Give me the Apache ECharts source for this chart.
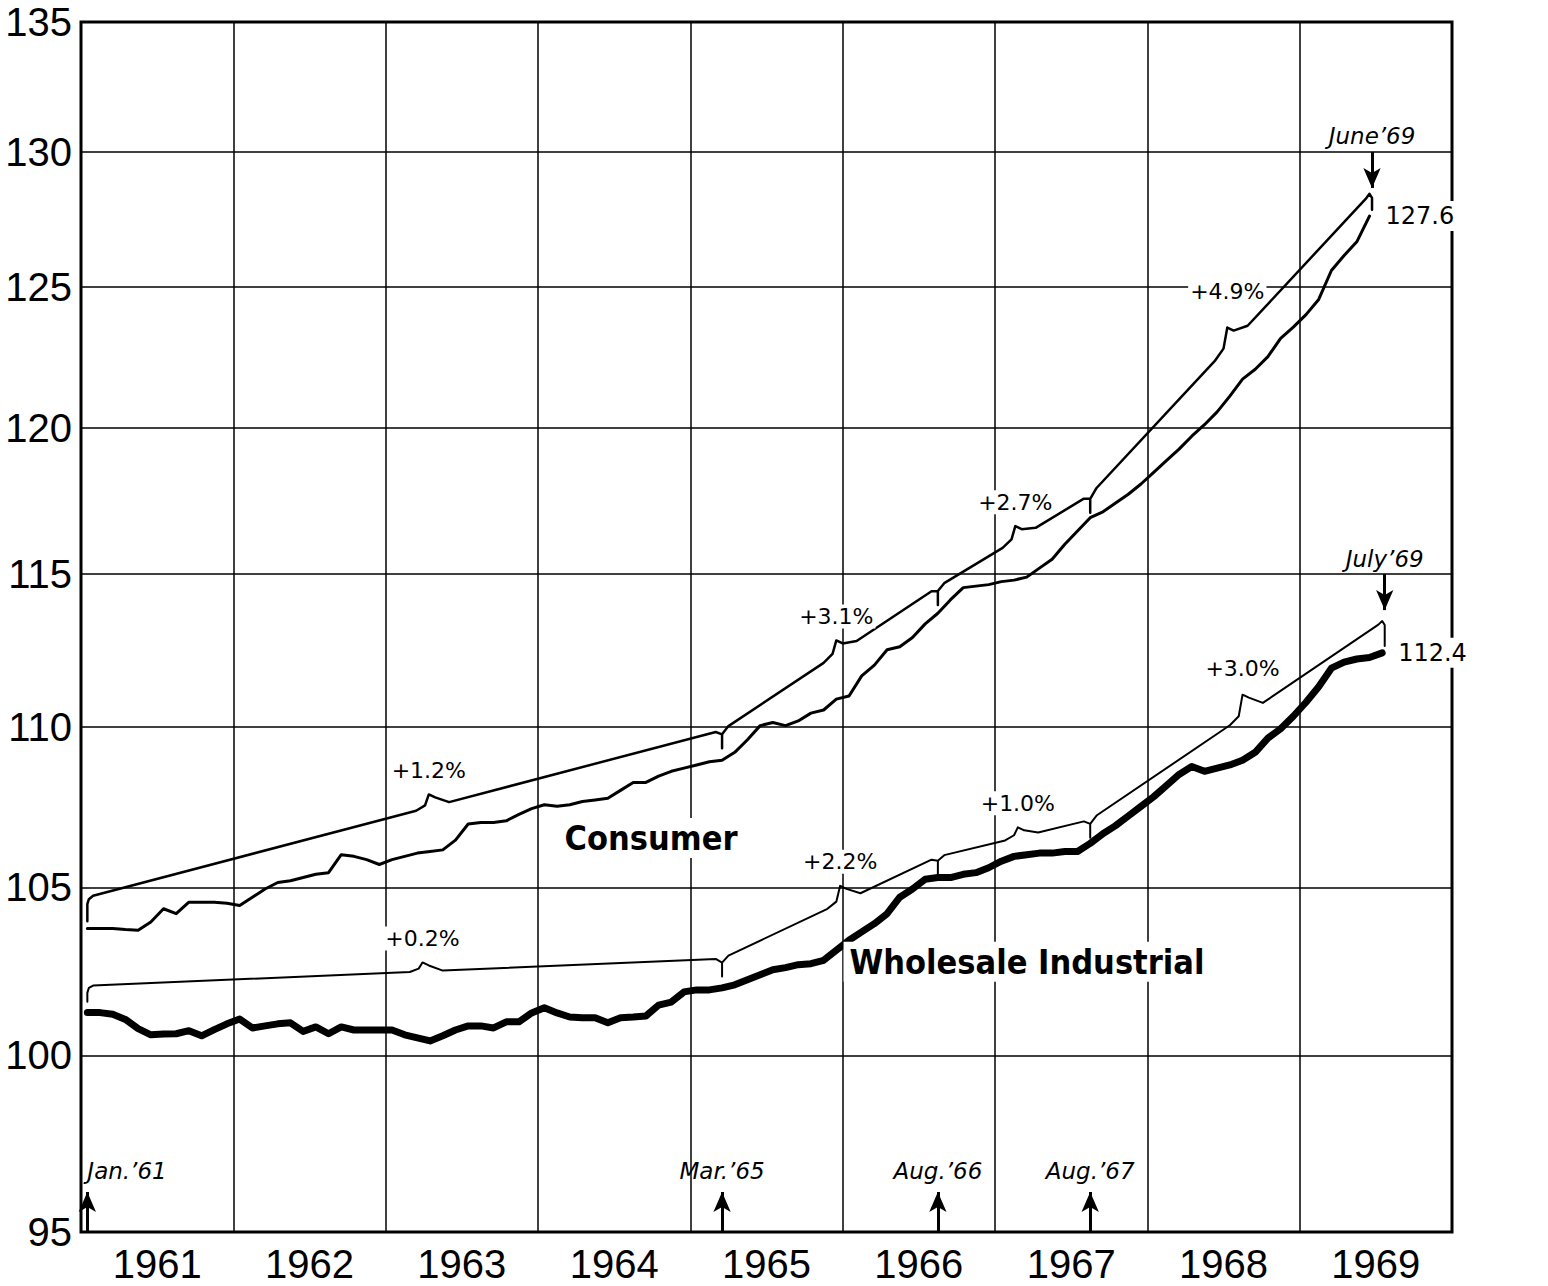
<!DOCTYPE html>
<html><head><meta charset="utf-8">
<script src="https://cdn.jsdelivr.net/npm/echarts@6/dist/echarts.min.js"></script>
<style>html,body{margin:0;padding:0;background:#fff}#c{width:1548px;height:1286px}</style>
</head><body><div id="c"></div>
<script>
// ---------------- DATA ----------------
const START_YEAR = 1961;
const YEARS = ['1961','1962','1963','1964','1965','1966','1967','1968','1969'];
const Y_TICKS = [95,100,105,110,115,120,125,130,135];

// Consumer price index, monthly from Jan 1961 to June 1969
const CONSUMER = [
  103.75,103.75,103.75,103.72,103.7,103.95,104.35,104.2,104.55,104.55,104.55,104.52,
  104.45,104.7,104.95,105.15,105.2,105.3,105.4,105.45,106.0,105.95,105.85,105.7,
  105.85,105.95,106.05,106.1,106.15,106.45,106.95,107.0,107.0,107.05,107.25,107.43,
  107.55,107.5,107.55,107.65,107.7,107.75,108.0,108.25,108.25,108.45,108.6,108.7,
  108.8,108.9,108.95,109.2,109.6,110.05,110.15,110.05,110.2,110.45,110.55,110.9,
  111.0,111.65,112.0,112.5,112.6,112.9,113.35,113.7,114.15,114.55,114.6,114.65,
  114.75,114.8,114.9,115.2,115.5,116.0,116.45,116.9,117.1,117.4,117.7,118.05,
  118.45,118.85,119.25,119.7,120.1,120.55,121.1,121.7,122.05,122.5,123.15,123.55,
  124.0,124.55,125.6,126.15,126.65,127.6
];
// Wholesale industrial price index, monthly from Jan 1961 to July 1969
const WHOLESALE = [
  101.25,101.25,101.2,101.05,100.78,100.6,100.62,100.63,100.72,100.57,100.75,100.92,
  101.06,100.8,100.86,100.92,100.95,100.7,100.83,100.63,100.83,100.74,100.74,100.74,
  100.74,100.6,100.51,100.42,100.57,100.74,100.86,100.86,100.8,100.98,100.98,101.24,
  101.39,101.24,101.12,101.1,101.1,100.95,101.1,101.12,101.15,101.47,101.56,101.86,
  101.92,101.92,101.98,102.07,102.22,102.37,102.52,102.58,102.67,102.7,102.8,103.1,
  103.4,103.65,103.9,104.2,104.7,104.95,105.25,105.3,105.3,105.4,105.45,105.6,
  105.8,105.95,106.0,106.05,106.05,106.1,106.1,106.35,106.65,106.9,107.2,107.5,
  107.8,108.15,108.5,108.75,108.6,108.7,108.8,108.95,109.2,109.65,109.95,110.35,
  110.8,111.3,111.9,112.1,112.2,112.25,112.4
];

// Rate-of-change braces (month index from Jan 1961, brace level at each boundary)
const CONSUMER_BRACE_MONTHS = [0, 50, 67, 79, 101];
const CONSUMER_BRACE_LEVELS = [104.7, 109.9, 114.57, 117.68, 128.39];
const CONSUMER_RATES = ['+1.2%', '+3.1%', '+2.7%', '+4.9%'];
const CONSUMER_RATE_MONTHS = [26.9, 59.0, 73.1, 89.8];

const WHOLESALE_BRACE_MONTHS = [0, 50, 67, 79, 102];
const WHOLESALE_BRACE_LEVELS = [102.04, 102.85, 105.94, 107.08, 113.41];
const WHOLESALE_RATES = ['+0.2%', '+2.2%', '+1.0%', '+3.0%'];
const WHOLESALE_RATE_MONTHS = [26.4, 59.3, 73.3, 91.0];

// Marked dates
const BASE_DATE_MONTHS = [0, 50, 67, 79];
const BASE_DATE_LABELS = ['Jan.’61', 'Mar.’65', 'Aug.’66', 'Aug.’67'];
const END_DATE_LABELS = ['June’69', 'July’69'];

const SERIES_NAMES = ['Consumer', 'Wholesale Industrial'];

// ---------------- STYLE / LAYOUT ----------------
const W = 1548, H = 1286;
const GRID = { left: 81, right: 96, top: 22, bottom: 54 };
const GRID_H = H - GRID.top - GRID.bottom;
const Y_MIN = 95, Y_MAX = 135;
const PX_PER_LOG = GRID_H / Math.log10(Y_MAX / Y_MIN);
const f = p => Math.pow(10, p / PX_PER_LOG);          // pixel offset -> ratio on log axis
const mx = m => START_YEAR + (m + 0.5) / 12;          // month index -> x value

const FONT_AXIS = "'Liberation Sans', 'DejaVu Sans', sans-serif";
const FONT_NOTE = "'DejaVu Sans', 'Liberation Sans', sans-serif";
const FONT_TITLE = "'DejaVu Sans Condensed', 'DejaVu Sans', sans-serif";

const CONSUMER_BUMP_PX = [13, 14, 14, 20];
const WHOLESALE_BUMP_PX = [9, 17, 10, 22];
const RATE_LABEL_DIST = [[12, 12, 12, 24], [12, 12, 12, 14]];
const END_HOOK_OFFSET = 0.2;
const TITLE_POS = { Consumer: [1964.742, 106.52], 'Wholesale Industrial': [1967.21, 102.76] };

function bracePath(months, levels, rateMonths, bumpPx, hookStart, hookEnd, drop) {
  const pts = [];
  const n = months.length - 1;
  const seg = (k, m) => {
    const t = (m - months[k]) / (months[k + 1] - months[k]);
    return levels[k] * Math.pow(levels[k + 1] / levels[k], t);
  };
  const push = (m, v) => pts.push([mx(m), v]);
  const peaks = [];
  push(months[0], levels[0] * f(-hookStart));
  push(months[0], levels[0] * f(-7));
  push(months[0] + 0.12, levels[0] * f(-2));
  push(months[0] + 0.45, seg(0, months[0] + 0.45));
  for (let k = 0; k < n; k++) {
    const c = rateMonths[k], P = bumpPx[k];
    const Lc = seg(k, c);
    push(c - 1.0, seg(k, c - 1.0));
    push(c - 0.3, seg(k, c - 0.3) * f(3));
    push(c, Lc * f(P));
    peaks.push([mx(c), Lc * f(P)]);
    push(c + 0.5, Lc * f(P - 3));
    push(c + 1.6, seg(k, c + 1.6));
    const mb = months[k + 1];
    if (k < n - 1) {
      push(mb - 0.5, seg(k, mb - 0.5));
      push(mb, levels[k + 1] * f(-4));
      push(mb, levels[k + 1] * f(-drop));
      push(mb, levels[k + 1] * f(-4));
      push(mb + 0.5, seg(k + 1, mb + 0.5));
    } else {
      push(mb - 0.3, seg(k, mb - 0.3));
      push(mb, levels[k + 1] * f(1));
      push(mb + END_HOOK_OFFSET, levels[k + 1] * f(-3));
      push(mb + END_HOOK_OFFSET, levels[k + 1] * f(-hookEnd));
    }
  }
  return { pts, peaks };
}

const cBrace = bracePath(CONSUMER_BRACE_MONTHS, CONSUMER_BRACE_LEVELS, CONSUMER_RATE_MONTHS, CONSUMER_BUMP_PX, 24, 15, 18);
const wBrace = bracePath(WHOLESALE_BRACE_MONTHS, WHOLESALE_BRACE_LEVELS, WHOLESALE_RATE_MONTHS, WHOLESALE_BUMP_PX, 16, 24, 18);

const noteLabel = {
  show: true, formatter: '{b}', fontSize: 22, color: '#000', fontFamily: FONT_NOTE,
  backgroundColor: '#fff', padding: [1, 2]
};

function rateMarks(peaks, rates, dists) {
  return {
    symbol: 'circle', symbolSize: 0, silent: true, animation: false,
    label: Object.assign({}, noteLabel, { position: 'top', distance: 12 }),
    data: peaks.map((p, k) => ({ coord: p, name: rates[k],
      label: Object.assign({}, noteLabel, { position: 'top', distance: dists[k] }) }))
  };
}

function endMark(values) {
  const last = values.length - 1;
  return {
    symbol: 'circle', symbolSize: 0, silent: true, animation: false,
    data: [
      { coord: [mx(last), values[last]], name: values[last].toFixed(1),
        label: Object.assign({}, noteLabel, { position: 'right', distance: 15, fontSize: 24, padding: [3, 1] }) }
    ]
  };
}

const titleMarks = {
  symbol: 'circle', symbolSize: 0, silent: true, animation: false,
  data: SERIES_NAMES.map(name => ({ coord: TITLE_POS[name], name: name })),
  label: { show: true, formatter: '{b}', position: 'inside', fontSize: 34, fontWeight: 'bold',
           fontFamily: FONT_TITLE, color: '#000', backgroundColor: '#fff', padding: [3, 6] }
};

const arrowLabel = { show: true, formatter: '{b}', fontSize: 23, fontStyle: 'italic', color: '#000', fontFamily: FONT_NOTE };
const arrowData = BASE_DATE_MONTHS.map((m, k) => [
  { coord: [mx(m), Y_MIN], name: BASE_DATE_LABELS[k],
    label: Object.assign({}, arrowLabel, { position: 'end', distance: 10 }, k === 0 ? { align: 'left' } : {}) },
  { coord: [mx(m), Y_MIN * f(40)] }
]);
const endMonths = [CONSUMER.length - 1 + END_HOOK_OFFSET, WHOLESALE.length - 1 + END_HOOK_OFFSET];
const endFrom = [130, 115];
endMonths.forEach((m, k) => {
  arrowData.push([
    { coord: [mx(m), endFrom[k]], name: END_DATE_LABELS[k],
      label: Object.assign({}, arrowLabel, { position: 'start', distance: 4 }) },
    { coord: [mx(m), endFrom[k] * f(-36)] }
  ]);
});

const gridLineLabel = { show: true, formatter: '{c}', fontSize: 40, color: '#000', fontFamily: FONT_AXIS };

const option = {
  animation: false,
  backgroundColor: '#fff',
  grid: Object.assign({ show: true, borderColor: '#000', borderWidth: 3, backgroundColor: 'transparent',
                        containLabel: false, outerBoundsMode: 'none' }, GRID),
  xAxis: [
    { type: 'value', min: 1961, max: 1970, interval: 1,
      axisLabel: { show: false }, axisTick: { show: false }, axisLine: { show: false },
      splitLine: { show: true, lineStyle: { color: '#000', width: 1.5 } } },
    { type: 'category', data: YEARS, position: 'bottom', boundaryGap: true,
      axisLine: { show: false }, axisTick: { show: false }, splitLine: { show: false },
      axisLabel: { fontSize: 40, margin: 12, color: '#000', fontFamily: FONT_AXIS } }
  ],
  yAxis: { type: 'log', logBase: 10, min: Y_MIN, max: Y_MAX,
           axisLabel: { show: false }, axisTick: { show: false }, axisLine: { show: false }, splitLine: { show: false } },
  series: [
    { type: 'line', data: [], z: 1, silent: true,
      markLine: { silent: true, symbol: ['none', 'none'], animation: false,
        lineStyle: { color: '#000', width: 1.5, type: 'solid' },
        label: Object.assign({}, gridLineLabel, { position: 'start', distance: 9 }),
        emphasis: { disabled: true },
        data: Y_TICKS.map(v => ({ yAxis: v })) } },
    { type: 'line', data: [], z: 1, silent: true,
      markLine: { silent: true, symbol: ['none', 'none'], animation: false,
        lineStyle: { color: '#000', width: 0, opacity: 0 },
        label: Object.assign({}, gridLineLabel, { position: 'end', distance: 10 }),
        emphasis: { disabled: true },
        data: Y_TICKS.map(v => ({ yAxis: v })) } },
    { type: 'line', data: [], z: 2, silent: true, markPoint: titleMarks },
    { name: 'Consumer rate', type: 'line', data: cBrace.pts, showSymbol: false, z: 3, silent: true,
      lineStyle: { color: '#000', width: 2.5, join: 'round', cap: 'round' },
      markPoint: rateMarks(cBrace.peaks, CONSUMER_RATES, RATE_LABEL_DIST[0]) },
    { name: 'Wholesale rate', type: 'line', data: wBrace.pts, showSymbol: false, z: 3, silent: true,
      lineStyle: { color: '#000', width: 2, join: 'round', cap: 'round' },
      markPoint: rateMarks(wBrace.peaks, WHOLESALE_RATES, RATE_LABEL_DIST[1]) },
    { name: SERIES_NAMES[0], type: 'line', data: CONSUMER.map((v, i) => [mx(i), v]), showSymbol: false, z: 4, silent: true,
      lineStyle: { color: '#000', width: 3, join: 'round', cap: 'round' },
      markPoint: endMark(CONSUMER) },
    { name: SERIES_NAMES[1], type: 'line', data: WHOLESALE.map((v, i) => [mx(i), v]), showSymbol: false, z: 4, silent: true,
      lineStyle: { color: '#000', width: 7, join: 'round', cap: 'round' },
      markPoint: endMark(WHOLESALE) },
    { type: 'line', data: [], z: 5, silent: true,
      markLine: { silent: true, symbol: ['none', 'arrow'], symbolSize: [13, 20], animation: false,
        lineStyle: { color: '#000', width: 3, type: 'solid' },
        emphasis: { disabled: true },
        data: arrowData } }
  ]
};

const chart = echarts.init(document.getElementById('c'), null, { renderer: 'svg', width: W, height: H });
chart.setOption(option);
</script>
</body></html>
